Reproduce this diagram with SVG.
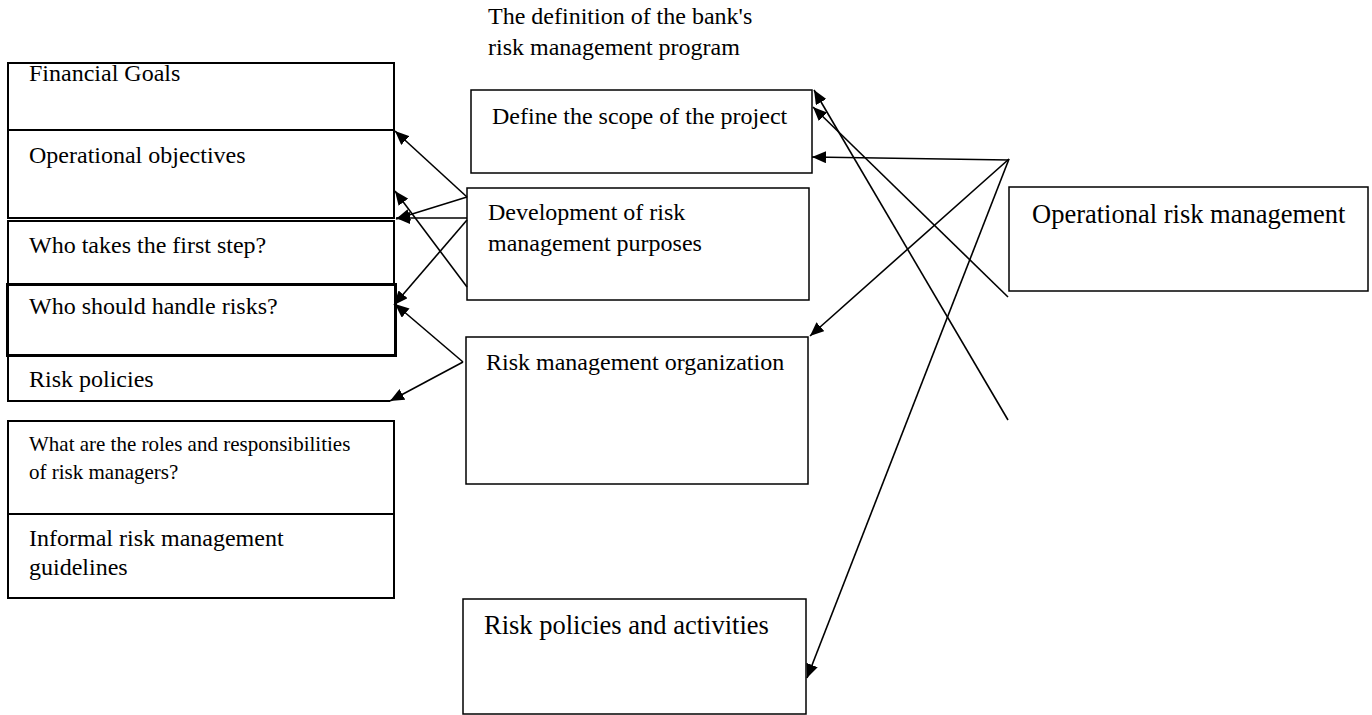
<svg xmlns="http://www.w3.org/2000/svg" width="1372" height="715" viewBox="0 0 1372 715">
<defs>
<marker id="ah" markerUnits="userSpaceOnUse" markerWidth="16" markerHeight="12" refX="14" refY="6" orient="auto">
<path d="M0,0 L14,6 L0,12 Z" fill="#000"/>
</marker>
<style>
text{font-family:"Liberation Serif","Times New Roman",serif;fill:#000;font-size:24px}
.big{font-size:26.5px}
.sm{font-size:21px}
rect{fill:none;stroke:#000;stroke-width:1.5}
.lc{stroke-width:2}
.thick{stroke-width:3}
.conn line{stroke:#000;stroke-width:1.6;marker-end:url(#ah)}
.plain{stroke:#000;stroke-width:1.5;fill:none}
</style>
</defs>
<rect width="1372" height="715" fill="#fff" style="fill:#fff;stroke:none"/>

<g id="title">
<text x="488" y="24">The definition of the bank's</text>
<text x="488" y="55">risk management program</text>
</g>

<g id="financial-goals">
<rect class="lc" x="8" y="63" width="386" height="67"/>
<text x="29" y="81">Financial Goals</text>
</g>
<g id="operational-objectives">
<rect class="lc" x="8" y="130" width="386" height="88"/>
<line class="plain" x1="8" y1="221" x2="394" y2="221"/>
<text x="29" y="163">Operational objectives</text>
</g>
<g id="who-takes">
<rect class="lc" x="8" y="221" width="386" height="63"/>
<text x="29" y="253">Who takes the first step?</text>
</g>
<g id="who-handles">
<rect class="thick" x="7.5" y="284.5" width="388" height="71"/>
<text x="29" y="314">Who should handle risks?</text>
</g>
<g id="risk-policies">
<path class="plain" style="stroke-width:2" d="M8,356 L8,401 L390,401"/>
<text x="29" y="387">Risk policies</text>
</g>
<g id="roles">
<rect class="lc" x="8" y="421" width="386" height="93"/>
<text class="sm" x="29" y="451">What are the roles and responsibilities</text>
<text class="sm" x="29" y="479">of risk managers?</text>
</g>
<g id="informal">
<rect class="lc" x="8" y="514" width="386" height="84"/>
<text x="29" y="546">Informal risk management</text>
<text x="29" y="575">guidelines</text>
</g>

<g id="define-scope">
<rect x="471" y="90" width="341" height="83"/>
<text x="492" y="124">Define the scope of the project</text>
</g>
<g id="development">
<rect x="467" y="188" width="342" height="112"/>
<text x="488" y="220">Development of risk</text>
<text x="488" y="251">management purposes</text>
</g>
<g id="organization">
<rect x="466" y="337" width="342" height="147"/>
<text x="486" y="370">Risk management organization</text>
</g>
<g id="policies-activities">
<rect x="463" y="599" width="343" height="115"/>
<text class="big" x="484" y="634">Risk policies and activities</text>
</g>
<g id="operational-risk">
<rect x="1009" y="187" width="359" height="104"/>
<text class="big" x="1032" y="223">Operational risk management</text>
</g>

<g id="connectors" class="conn">
<line x1="467" y1="197" x2="395" y2="131"/>
<line x1="467" y1="197" x2="396" y2="219"/>
<line x1="467" y1="218" x2="396" y2="218"/>
<line x1="467" y1="287" x2="395" y2="191"/>
<line x1="467" y1="220" x2="394" y2="305"/>
<line x1="463" y1="362" x2="395" y2="304"/>
<line x1="463" y1="362" x2="390" y2="401"/>
<line x1="1009" y1="160" x2="812" y2="157"/>
<line x1="1009" y1="159" x2="810" y2="336"/>
<line x1="1009" y1="159" x2="807" y2="678"/>
<line x1="1008" y1="297" x2="813" y2="107"/>
<line x1="1008" y1="420" x2="814" y2="90"/>
</g>
</svg>
